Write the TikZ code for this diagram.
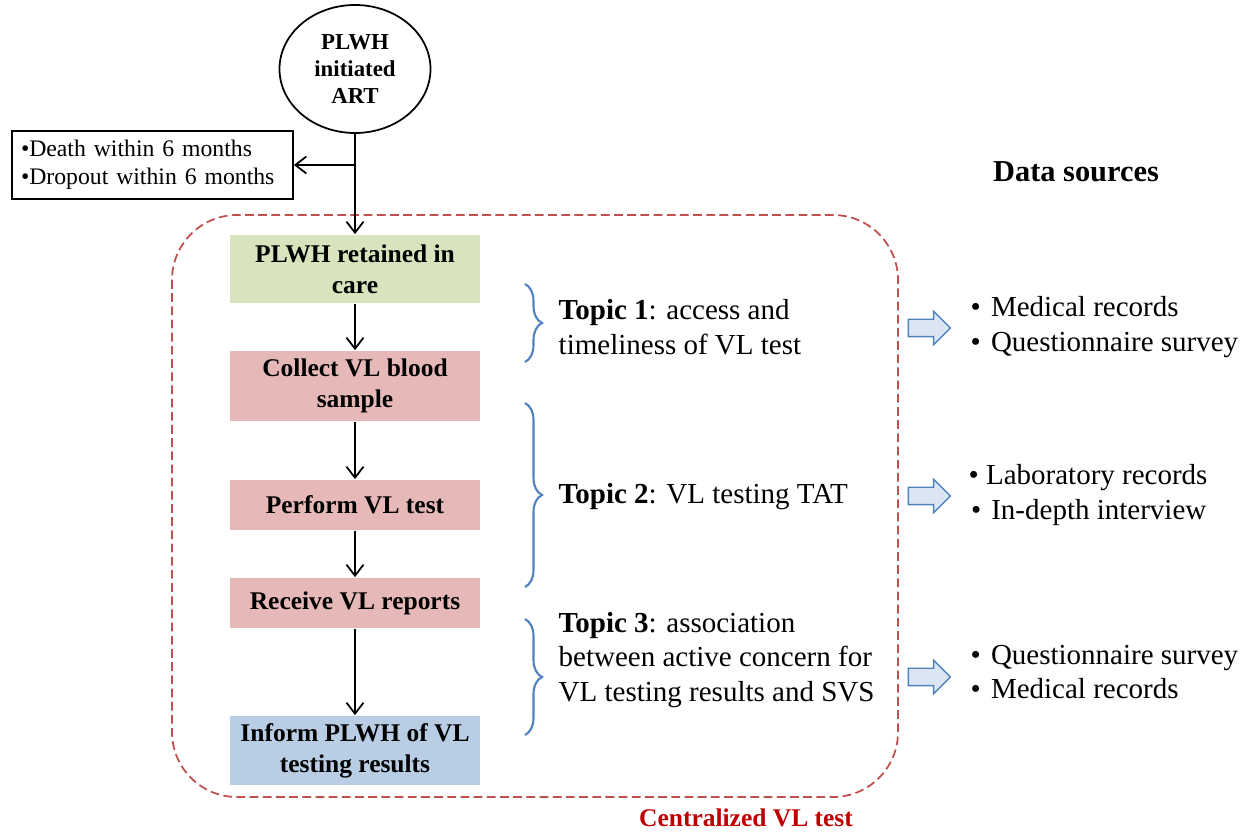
\documentclass[tikz,border=0pt]{standalone}
\usepackage{fontspec}
\setmainfont{Liberation Serif}
\usetikzlibrary{arrows.meta,positioning,shapes.geometric,shapes.arrows,decorations.pathreplacing}

\definecolor{stepgreen}{HTML}{D7E4BD}
\definecolor{steppink}{HTML}{E6B9B8}
\definecolor{stepblue}{HTML}{B9CDE5}
\definecolor{bracecol}{HTML}{4F81BD}
\definecolor{arrowfill}{HTML}{DCE6F2}
\definecolor{dashred}{HTML}{C0504D}
\definecolor{titlered}{HTML}{C00000}

\tikzset{
    stepbox/.style={rectangle, minimum width=5cm, inner sep=2pt, align=center,
        font=\fontsize{14.5}{17.5}\selectfont\bfseries},
    topic/.style={anchor=west, align=left, font=\fontsize{16.5}{19.8}\selectfont},
    source/.style={anchor=west, align=left, font=\fontsize{16.5}{19.8}\selectfont},
    fatarrow/.style={single arrow, draw=bracecol, fill=arrowfill, line width=0.8pt,
        minimum height=0.84cm, inner xsep=0pt, inner ysep=0.16cm,
        single arrow head extend=0.16cm},
    topicbrace/.style={draw=bracecol, line width=1.2pt, decorate,
        decoration={brace, amplitude=0.34cm}}
}
\newcommand{\srcitem}[1]{\makebox[0.7em][l]{\textbullet}#1}

\begin{document}
\begin{tikzpicture}[
                    node distance=2cm,
                    >={Straight Barb[length=2.2mm,width=3.4mm]},
                    line width=1pt
                ]
                \useasboundingbox (0,0) rectangle (24.96,-16.64);

                % Group frame
                \draw[dashred, line width=1pt, dash pattern=on 5pt off 2.5pt, rounded corners=1.3cm]
                    (3.44,-4.3) rectangle (17.96,-15.94);
                \node[text=titlered, font=\fontsize{14.5}{17}\selectfont\bfseries] (central) at (14.92,-16.36) {Centralized VL test};

                % Blocks
                \node [ellipse, draw, minimum width=3.02cm, minimum height=2.56cm, inner sep=0pt, align=center,
                       font=\fontsize{13}{15.5}\selectfont\bfseries] (start) at (7.1,-1.38) {PLWH\\initiated\\ART};
                \node [stepbox, fill=stepgreen, minimum height=1.36cm, below of=start, node distance=4cm] (retained) {PLWH retained in\\care};
                \node [stepbox, fill=steppink, minimum height=1.4cm, below of=retained, node distance=2.34cm] (collect) {Collect VL blood\\sample};
                \node [stepbox, fill=steppink, minimum height=1cm, below of=collect, node distance=2.38cm] (perform) {Perform VL test};
                \node [stepbox, fill=steppink, minimum height=1cm, below of=perform, node distance=1.96cm] (receive) {Receive VL reports};
                \node [stepbox, fill=stepblue, minimum height=1.38cm, below of=receive, node distance=2.95cm] (inform) {Inform PLWH of VL\\testing results};

                \node [rectangle, draw, minimum width=5.62cm, minimum height=1.28cm, inner sep=0.18cm, align=left,
                       text width=5.26cm, font=\fontsize{13.5}{16}\selectfont] (lost) at (3.05,-3.3)
                       {\textbullet Death within 6 months\\\textbullet Dropout within 6 months};
                \coordinate (split) at (7.1,-3.3);

                % Connections
                \draw [->] (start) -- (retained);
                \draw [->] (split) -- (lost);
                \draw [->] (retained) -- (collect);
                \draw [->] (collect) -- (perform);
                \draw [->] (perform) -- (receive);
                \draw [->] (receive) -- (inform);

                % Topics
                \draw [topicbrace] (10.5,-5.68) -- (10.5,-7.24);
                \draw [topicbrace] (10.5,-8.06) -- (10.5,-11.74);
                \draw [topicbrace] (10.5,-12.38) -- (10.5,-14.7);
                \node [topic] (topic1) at (11.04,-6.54) {\textbf{Topic 1}: access and\\timeliness of VL test};
                \node [topic] (topic2) at (11.04,-9.94) {\textbf{Topic 2}: VL testing TAT};
                \node [topic] (topic3) at (11.04,-13.2) {\textbf{Topic 3}: association\\between active concern for\\VL testing results and SVS};

                % Data sources
                \node [font=\fontsize{17.3}{20}\selectfont\bfseries] (sources) at (21.52,-3.44) {Data sources};
                \node [fatarrow] (arrow1) at (18.5,-6.56) {};
                \node [fatarrow] (arrow2) at (18.5,-9.92) {};
                \node [fatarrow] (arrow3) at (18.5,-13.54) {};
                \node [source] (src1) at (19.28,-6.54) {\srcitem{Medical records}\\\srcitem{Questionnaire survey}};
                \node [source] (src2) at (19.24,-9.9) {\makebox[0.6em][l]{\textbullet}Laboratory records\\\hspace*{0.08em}\srcitem{In-depth interview}};
                \node [source] (src3) at (19.28,-13.44) {\srcitem{Questionnaire survey}\\\srcitem{Medical records}};
            \end{tikzpicture}
\end{document}
